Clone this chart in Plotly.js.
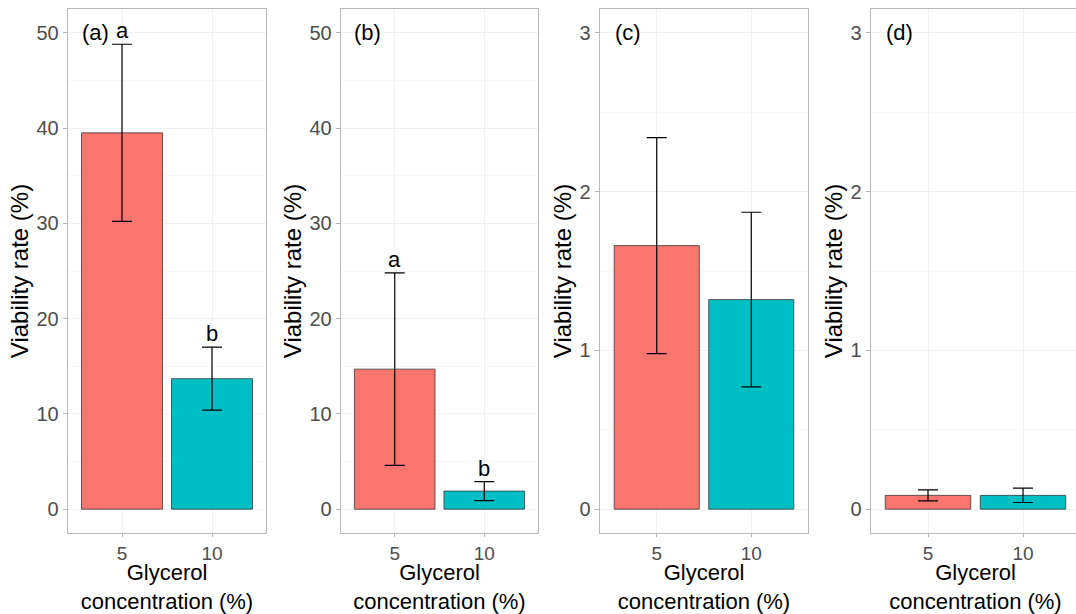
<!DOCTYPE html>
<html>
<head>
<meta charset="utf-8">
<script src="https://cdn.plot.ly/plotly-3.0.1.min.js"></script>
<style>
html,body{margin:0;padding:0;overflow:hidden;background:#fff;}
#chart{width:1080px;height:614px;}
</style>
</head>
<body>
<div id="chart"></div>
<script>
// ---- data ----
const categories = ['5', '10'];
const meanA = [39.5, 13.7];
const seA   = [9.3, 3.3];
const meanB = [14.7, 1.9];
const seB   = [10.1, 1.0];
const meanC = [1.66, 1.32];
const seC   = [0.68, 0.55];
const meanD = [0.087, 0.087];
const seD   = [0.035, 0.045];
const lettersA = ['a', 'b'];
const lettersB = ['a', 'b'];
const panelLabels = ['(a)', '(b)', '(c)', '(d)'];
const yLimits = [50, 50, 3, 3];
const yDticks = [10, 10, 1, 1];

const barColors = ['#F8766D', '#00BFC4'];
const W = 1080;
const domPx = [[68, 266], [341, 538], [600, 808], [871, 1080]];
const means = [meanA, meanB, meanC, meanD];
const ses = [seA, seB, seC, seD];
const letters = [lettersA, lettersB, null, null];

const traces = [];
const annotations = [];
const layout = {
  width: W, height: 614,
  margin: {l: 0, r: 0, t: 9, b: 81},
  paper_bgcolor: '#ffffff', plot_bgcolor: '#ffffff',
  showlegend: false,
  font: {family: 'Liberation Sans, Arial, sans-serif', color: '#000'},
  annotations: annotations
};

for (let i = 0; i < 4; i++) {
  const sfx = i === 0 ? '' : String(i + 1);
  traces.push({
    type: 'bar',
    x: categories, y: means[i],
    xaxis: 'x' + sfx, yaxis: 'y' + sfx,
    width: 0.9,
    marker: {color: barColors, line: {color: '#3a3a3a', width: 0.8}},
    error_y: {type: 'data', array: ses[i], visible: true, color: '#000', thickness: 1.2, width: 10},
    hoverinfo: 'skip'
  });
  const top = yLimits[i];
  const pad = top * 0.05;
  layout['xaxis' + sfx] = {
    domain: [domPx[i][0] / W, domPx[i][1] / W],
    anchor: 'y' + sfx,
    type: 'category',
    range: [-0.6, 1.6],
    showline: true, mirror: true, linecolor: '#b8b8b8', linewidth: 1.3,
    ticks: 'outside', ticklen: 3, tickcolor: '#b3b3b3', tickwidth: 1,
    showgrid: true, gridcolor: '#f1f1f1', gridwidth: 1,
    zeroline: false,
    tickfont: {size: 19, color: '#4d4d4d'},
    title: {text: 'Glycerol<br>concentration (%)', font: {size: 22, color: '#000'}, standoff: 3},
    fixedrange: true
  };
  layout['yaxis' + sfx] = {
    domain: [0, 1],
    anchor: 'x' + sfx,
    range: [-pad, top + pad],
    dtick: yDticks[i], tick0: 0,
    showline: true, mirror: true, linecolor: '#b8b8b8', linewidth: 1.3,
    ticks: 'outside', ticklen: 4, tickcolor: '#b3b3b3', tickwidth: 1,
    showgrid: true, gridcolor: '#f1f1f1', gridwidth: 1,
    minor: {dtick: yDticks[i] / 2, showgrid: true, gridcolor: '#f8f8f8', ticklen: 0},
    zeroline: false,
    tickfont: {size: 20, color: '#4d4d4d'},
    title: {text: 'Viability rate (%)', font: {size: 24, color: '#000'}, standoff: 1},
    fixedrange: true
  };
  annotations.push({
    xref: 'x' + sfx, yref: 'y' + sfx,
    x: -0.3, y: top, text: panelLabels[i], showarrow: false,
    xanchor: 'center', yanchor: 'middle',
    font: {size: 22, color: '#000'}
  });
  if (letters[i]) {
    for (let j = 0; j < categories.length; j++) {
      annotations.push({
        xref: 'x' + sfx, yref: 'y' + sfx,
        x: j, y: means[i][j] + ses[i][j] + top * 0.028,
        text: letters[i][j], showarrow: false,
        xanchor: 'center', yanchor: 'middle',
        font: {size: 22, color: '#000'}
      });
    }
  }
}

Plotly.newPlot('chart', traces, layout, {displayModeBar: false, staticPlot: true});
</script>
</body>
</html>
